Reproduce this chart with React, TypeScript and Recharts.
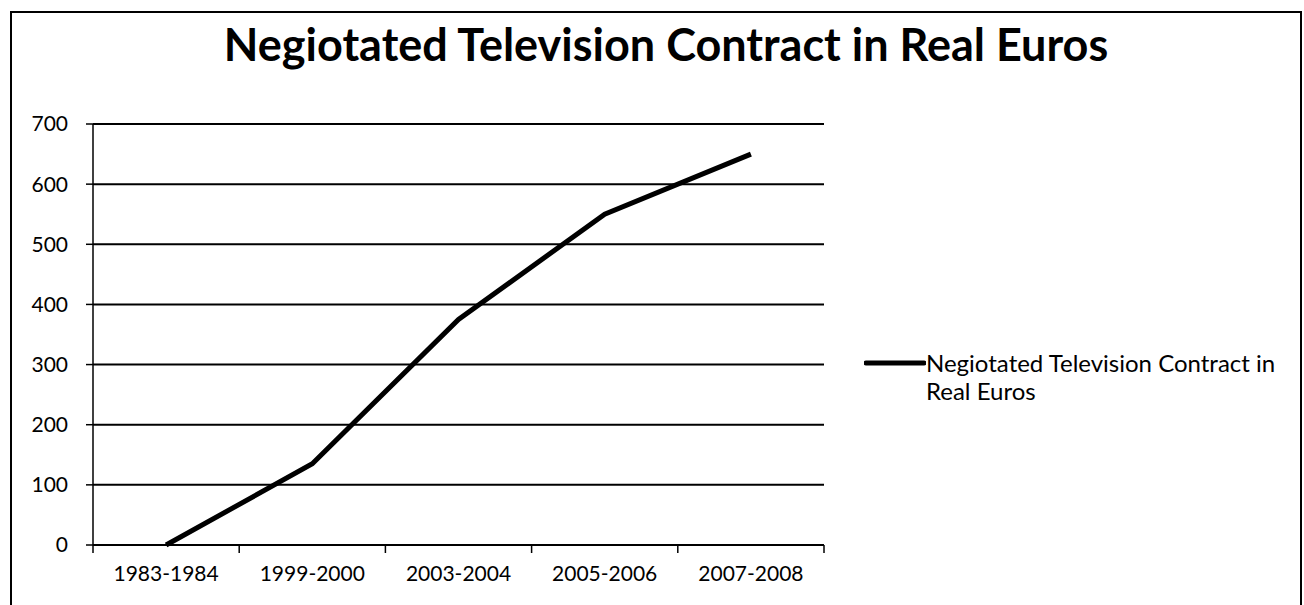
import React from "react";
import { LineChart, Line, XAxis, YAxis, CartesianGrid, Legend } from "recharts";

const categories = ["1983-1984", "1999-2000", "2003-2004", "2005-2006", "2007-2008"];
const contractValues = [0, 135, 375, 550, 650];
const yTicks = [0, 100, 200, 300, 400, 500, 600, 700];
const seriesName = "Negiotated Television Contract in Real Euros";
const titleText = "Negiotated Television Contract in Real Euros";

const data = categories.map((c, i) => ({ period: c, value: contractValues[i] }));

const W = 1304;
const H = 605;
const PLOT_LEFT = 93;
const PLOT_RIGHT = 824;
const PLOT_TOP = 124;
const PLOT_BOTTOM = 545;
const Y_AXIS_W = 60;
const X_AXIS_H = 40;
const FONT = "Lato, 'Open Sans', sans-serif";
const halfBand = (PLOT_RIGHT - PLOT_LEFT) / categories.length / 2;

const XTick = (props: any) => {
  const { x, y, payload, index } = props;
  const last = index === categories.length - 1;
  return (
    <g>
      <line x1={x - halfBand} x2={x - halfBand} y1={y - 8} y2={y} stroke="#000" strokeWidth={1.5} />
      {last && (
        <line x1={x + halfBand} x2={x + halfBand} y1={y - 8} y2={y} stroke="#000" strokeWidth={1.5} />
      )}
      <text x={x} y={y + 28} textAnchor="middle" fontSize={21} fontFamily={FONT} fill="#000">
        {payload.value}
      </text>
    </g>
  );
};

const LegendContent = () => (
  <div style={{ display: "flex", alignItems: "flex-start", fontFamily: FONT, fontSize: 24, color: "#000" }}>
    <svg width={62} height={24} style={{ flexShrink: 0 }}>
      <line x1={2} x2={60} y1={12} y2={12} stroke="#000" strokeWidth={5} strokeLinecap="round" />
    </svg>
    <div style={{ width: 380, lineHeight: "28px", marginTop: -2, textAlign: "left" }}>{seriesName}</div>
  </div>
);

export default function App() {
  return (
    <div style={{ position: "fixed", left: 0, top: 0, width: W, height: H, overflow: "hidden", background: "#fff" }}>
      <div
        style={{
          position: "absolute",
          left: 10,
          top: 11,
          width: 1292,
          height: 640,
          border: "2px solid #000",
          boxSizing: "border-box",
        }}
      />
      <div
        style={{
          position: "absolute",
          left: 0,
          width: W,
          top: 16,
          textAlign: "center",
          fontFamily: FONT,
          fontWeight: 700,
          fontSize: 45,
          lineHeight: "56px",
          color: "#000",
          paddingLeft: 28,
          boxSizing: "border-box",
        }}
      >
        {titleText}
      </div>
      <div style={{ position: "absolute", left: 0, top: 0 }}>
        <LineChart
          width={W}
          height={H}
          data={data}
          margin={{
            top: PLOT_TOP,
            left: PLOT_LEFT - Y_AXIS_W,
            right: W - PLOT_RIGHT,
            bottom: H - PLOT_BOTTOM - X_AXIS_H,
          }}
        >
          <CartesianGrid vertical={false} stroke="#000" strokeWidth={2} />
          <XAxis
            dataKey="period"
            padding={{ left: halfBand, right: halfBand }}
            axisLine={{ stroke: "#000", strokeWidth: 2 }}
            tickLine={false}
            height={X_AXIS_H}
            interval={0}
            tick={<XTick />}
          />
          <YAxis
            domain={[0, 700]}
            ticks={yTicks}
            width={Y_AXIS_W}
            axisLine={{ stroke: "#000", strokeWidth: 1.5 }}
            tickLine={{ stroke: "#000", strokeWidth: 1.5 }}
            tickSize={7}
            tickMargin={18}
            tick={{ fontSize: 21, fontFamily: FONT, fill: "#000" }}
            interval={0}
          />
          <Legend
            layout="vertical"
            align="center"
            verticalAlign="middle"
            wrapperStyle={{ position: "absolute", left: 864, top: 351, width: 440 }}
            content={<LegendContent />}
          />
          <Line
            type="linear"
            dataKey="value"
            name={seriesName}
            stroke="#000"
            strokeWidth={5}
            dot={false}
            activeDot={false}
            isAnimationActive={false}
          />
        </LineChart>
      </div>
    </div>
  );
}
